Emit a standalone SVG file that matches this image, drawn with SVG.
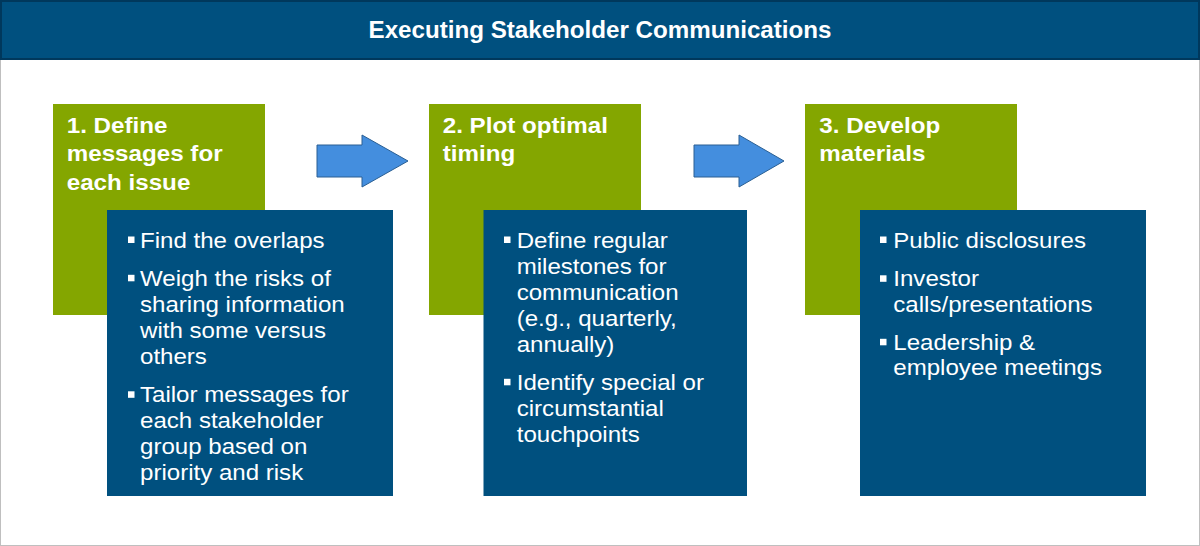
<svg xmlns="http://www.w3.org/2000/svg" width="1200" height="546" viewBox="0 0 1200 546">
<style>
.green{fill:#84A600}
.blue{fill:#00507F}
.head{font-family:"Liberation Sans",Arial,sans-serif;font-weight:bold;font-size:22.5px;fill:#FFFFFF}
.body{font-family:"Liberation Sans",Arial,sans-serif;font-size:22px;fill:#FFFFFF}
.bul{fill:#FFFFFF}
.arrow{fill:#448EDE;stroke:#2A5F93;stroke-width:1}
</style>
<rect x="0.5" y="0.5" width="1199" height="545" fill="#FFFFFF" stroke="#BFBFBF" stroke-width="1"/>
<g id="title">
<rect x="1" y="1" width="1198" height="58" fill="#00507F" stroke="#00385C" stroke-width="2"/>
<text transform="translate(600 37.5) scale(1.05 1)" text-anchor="middle" font-family="Liberation Sans, Arial, sans-serif" font-weight="bold" font-size="23" fill="#FFFFFF">Executing Stakeholder Communications</text>
</g>
<g id="connectors">
<polygon class="arrow" points="317,145 362,145 362,135 408,161 362,187 362,177 317,177"/>
<polygon class="arrow" points="694,145 739,145 739,135 784,161 739,187 739,177 694,177"/>
</g>
<g id="step1">
<rect class="green" x="53" y="104" width="212" height="211"/>
<g class="head" transform="translate(66.7 0) scale(1.075 1)">
<text x="0" y="133">1. Define</text>
<text x="0" y="161.5">messages for</text>
<text x="0" y="190">each issue</text>
</g>
<rect class="blue" x="107" y="210" width="286" height="286"/>
<rect class="bul" x="128" y="236.5" width="6.5" height="6.5"/>
<rect class="bul" x="128" y="274.8" width="6.5" height="6.5"/>
<rect class="bul" x="128" y="391.3" width="6.5" height="6.5"/>
<g class="body" transform="translate(140 0) scale(1.095 1)">
<text x="0" y="247.7">Find the overlaps</text>
<text x="0" y="286">Weigh the risks of</text>
<text x="0" y="312">sharing information</text>
<text x="0" y="338">with some versus</text>
<text x="0" y="364">others</text>
<text x="0" y="402.5">Tailor messages for</text>
<text x="0" y="428.5">each stakeholder</text>
<text x="0" y="454.5">group based on</text>
<text x="0" y="480.5">priority and risk</text>
</g>
</g>
<g id="step2">
<rect class="green" x="429" y="104" width="212" height="211"/>
<g class="head" transform="translate(442.7 0) scale(1.075 1)">
<text x="0" y="133">2. Plot optimal</text>
<text x="0" y="161.5">timing</text>
</g>
<rect class="blue" x="483.5" y="210" width="263.5" height="286"/>
<rect class="bul" x="504" y="236.5" width="6.5" height="6.5"/>
<rect class="bul" x="504" y="378.8" width="6.5" height="6.5"/>
<g class="body" transform="translate(516.7 0) scale(1.095 1)">
<text x="0" y="247.7">Define regular</text>
<text x="0" y="273.7">milestones for</text>
<text x="0" y="299.7">communication</text>
<text x="0" y="325.7">(e.g., quarterly,</text>
<text x="0" y="351.7">annually)</text>
<text x="0" y="390">Identify special or</text>
<text x="0" y="416">circumstantial</text>
<text x="0" y="442">touchpoints</text>
</g>
</g>
<g id="step3">
<rect class="green" x="805" y="104" width="212" height="211"/>
<g class="head" transform="translate(819.3 0) scale(1.075 1)">
<text x="0" y="133">3. Develop</text>
<text x="0" y="161.5">materials</text>
</g>
<rect class="blue" x="860" y="210" width="286" height="286"/>
<rect class="bul" x="880" y="236.5" width="6.5" height="6.5"/>
<rect class="bul" x="880" y="275.3" width="6.5" height="6.5"/>
<rect class="bul" x="880" y="338.8" width="6.5" height="6.5"/>
<g class="body" transform="translate(893.3 0) scale(1.095 1)">
<text x="0" y="247.7">Public disclosures</text>
<text x="0" y="286.5">Investor</text>
<text x="0" y="312">calls/presentations</text>
<text x="0" y="350">Leadership &amp;</text>
<text x="0" y="375.5">employee meetings</text>
</g>
</g>
</svg>
